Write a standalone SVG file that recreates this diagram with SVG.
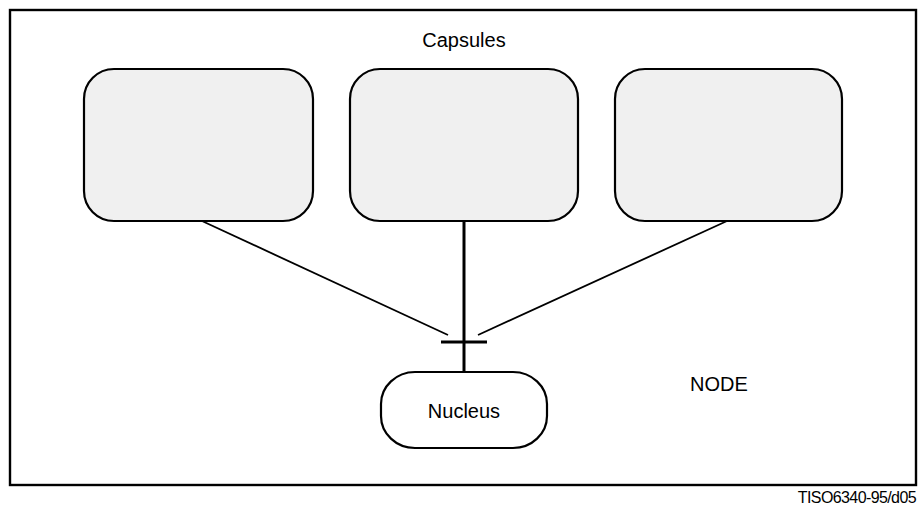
<svg xmlns="http://www.w3.org/2000/svg" width="922" height="508" viewBox="0 0 922 508">
<style>
.cap{fill:#f0f0f0;stroke:#000;stroke-width:2.2}
.nuc{fill:#fff;stroke:#000;stroke-width:2.2}
.t{font-family:"Liberation Sans",Arial,sans-serif;font-size:20px;fill:#000}
.thin{stroke:#000;stroke-width:1.8;fill:none}
.thick{stroke:#000;stroke-width:3;fill:none}
</style>
<rect width="922" height="508" fill="#fff"/>
<g id="node-frame">
<rect x="10" y="10" width="906" height="475" fill="none" stroke="#000" stroke-width="2.4"/>
<text class="t" x="690" y="391">NODE</text>
</g>
<text class="t" x="464" y="47" text-anchor="middle">Capsules</text>
<g id="capsule1"><rect class="cap" x="84" y="69" width="229" height="152" rx="30" ry="30"/></g>
<g id="capsule2"><rect class="cap" x="350" y="69" width="228" height="152" rx="30" ry="30"/></g>
<g id="capsule3"><rect class="cap" x="615" y="69" width="227" height="152" rx="30" ry="30"/></g>
<g id="connectors">
<line class="thin" x1="202" y1="221" x2="448" y2="335"/>
<line class="thin" x1="727" y1="221" x2="478" y2="335"/>
<line class="thick" x1="464" y1="221" x2="464" y2="372"/>
<line class="thick" x1="441" y1="342" x2="487" y2="342"/>
</g>
<g id="nucleus">
<rect class="nuc" x="381" y="372" width="166" height="76" rx="34" ry="32"/>
<text class="t" x="464" y="418" text-anchor="middle">Nucleus</text>
</g>
<text x="916" y="503" text-anchor="end" font-family="'Liberation Sans',Arial,sans-serif" font-size="16" letter-spacing="-0.6" fill="#000">TISO6340-95/d05</text>
</svg>
